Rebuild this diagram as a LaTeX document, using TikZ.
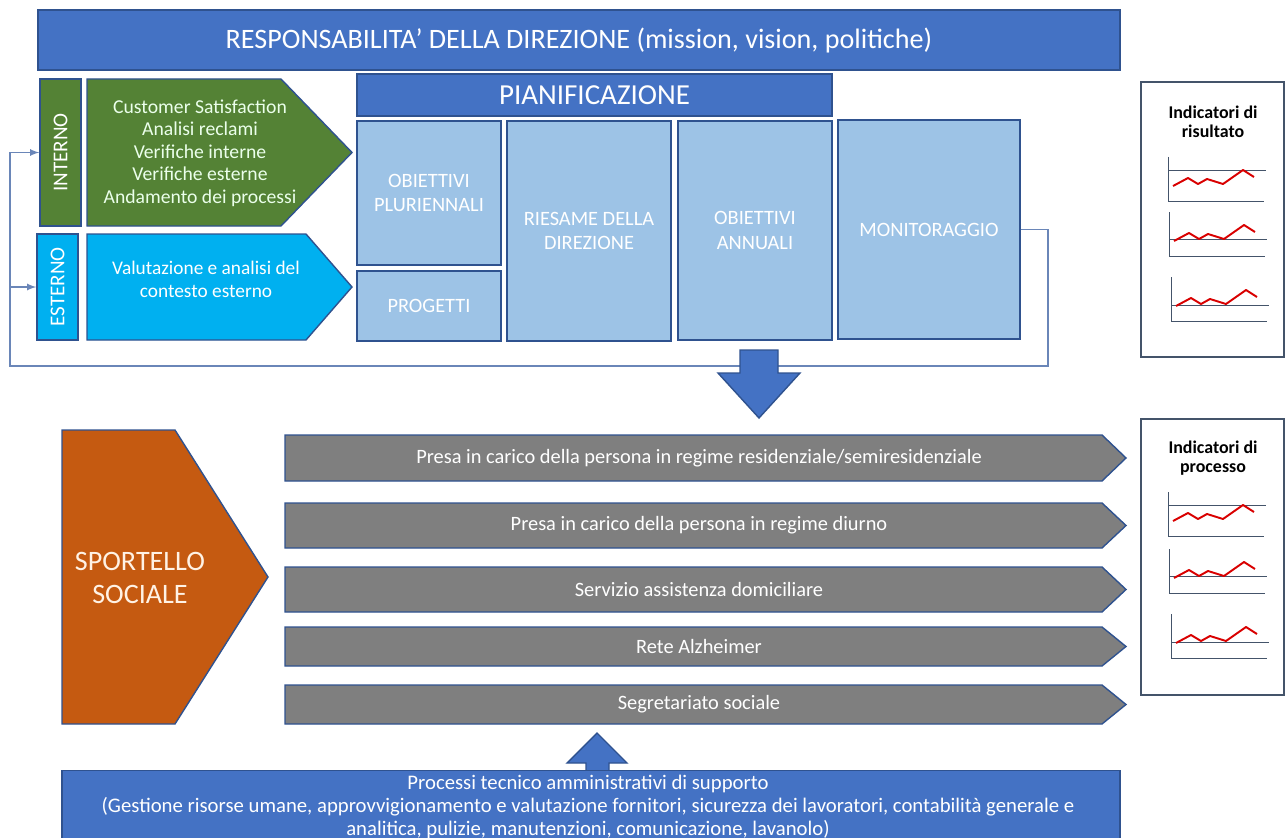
\documentclass[tikz,border=0pt]{standalone}
\usepackage{fontspec}
\setmainfont{Carlito}
\usetikzlibrary{arrows}

\definecolor{blusc}{HTML}{4472C4}
\definecolor{bordo}{HTML}{2F528F}
\definecolor{verde}{HTML}{548235}
\definecolor{azzurro}{HTML}{00B0F0}
\definecolor{celeste}{HTML}{9DC3E6}
\definecolor{arancio}{HTML}{C55A11}
\definecolor{grigio}{HTML}{7F7F7F}
\definecolor{ardesia}{HTML}{44546A}
\definecolor{ritorno}{HTML}{6A86B8}

% piccolo grafico: x, y dell'asse, quota della linea di riferimento
\newcommand{\minigrafico}[3]{
	\begin{scope}[shift={(#1,#2)}]
		\draw[ardesia, line width=0.5pt] (0,0) -- (0,44) -- (96,44);
		\draw[ardesia, line width=0.5pt] (0,#3) -- (98,#3);
		\draw[red!85!black, line width=1.1pt, line join=round] (5,29) -- (20,21) -- (30,27) -- (39,22) -- (55,27) -- (75,13) -- (86,20);
	\end{scope}
}

\begin{document}
\begin{tikzpicture}[x=0.02cm,y=-0.02cm]
	\tikzstyle{testata}=[rectangle,draw=bordo,fill=blusc,line width=0.8pt,text=white]
	\tikzstyle{verticale}=[rectangle,draw=bordo,line width=0.8pt,text=white,rotate=90,font=\fontsize{12}{14}\selectfont]
	\tikzstyle{cella}=[rectangle,draw=bordo,fill=celeste,line width=0.8pt,text=white,align=center,font=\fontsize{11.6}{13.8}\selectfont]
	\tikzstyle{punta}=[draw=bordo,line width=0.8pt]
	\tikzstyle{voce}=[text=white,align=center,font=\fontsize{11.6}{13}\selectfont]
	\tikzstyle{indicatori}=[rectangle,draw=ardesia,line width=0.8pt,fill=white]
	\tikzstyle{titind}=[font=\bfseries\fontsize{10.2}{10.9}\selectfont,align=center]
	\tikzstyle{ritorno}=[draw=ritorno,line width=0.8pt]

	\useasboundingbox (0,0) rectangle (1285,838);

	% responsabilita'
	\node[testata,minimum width=21.64cm,minimum height=1.2cm,font=\fontsize{16}{18}\selectfont] (dir) at (579,40) {RESPONSABILITA' DELLA DIREZIONE (mission, vision, politiche)};

	% contesto interno ed esterno
	\node[verticale,fill=verde,minimum width=2.94cm,minimum height=0.82cm] (interno) at (60.5,152.5) {INTERNO};
	\node[verticale,fill=azzurro,minimum width=2.12cm,minimum height=0.82cm] (esterno) at (57.5,287) {ESTERNO};
	\filldraw[punta,fill=verde] (87,79) -- (281,79) -- (352,152.5) -- (281,226) -- (87,226) -- cycle;
	\node[voce,text=green!8!white,font=\fontsize{11.2}{12.8}\selectfont] (fonti) at (200,153) {Customer Satisfaction\\Analisi reclami\\Verifiche interne\\Verifiche esterne\\Andamento dei processi};
	\filldraw[punta,fill=azzurro] (87,234) -- (306,234) -- (352,287) -- (306,340) -- (87,340) -- cycle;
	\node[voce,font=\fontsize{11}{13}\selectfont] (contesto) at (206,279) {Valutazione e analisi del\\contesto esterno};

	% pianificazione
	\node[testata,minimum width=9.5cm,minimum height=0.84cm,font=\fontsize{16.5}{18}\selectfont] (pian) at (594.5,95) {PIANIFICAZIONE};
	\node[cella,minimum width=2.88cm,minimum height=2.88cm] (pluri) at (429,193) {OBIETTIVI\\PLURIENNALI};
	\node[cella,minimum width=2.88cm,minimum height=1.4cm] (progetti) at (429,306) {PROGETTI};
	\node[cella,minimum width=3.28cm,minimum height=4.4cm] (riesame) at (589,231) {RIESAME DELLA\\DIREZIONE};
	\node[cella,minimum width=3.08cm,minimum height=4.38cm] (annuali) at (755,230.5) {OBIETTIVI\\ANNUALI};
	\node[cella,minimum width=3.64cm,minimum height=4.38cm] (monit) at (929,229.5) {MONITORAGGIO};

	% ritorno dal monitoraggio
	\coordinate (rd) at (1048,366);
	\coordinate (rs) at (10,366);
	\draw[ritorno,-latex] (monit.east) -| (rd) -- (rs) |- (interno.north);
	\draw[ritorno,-latex] (rs |- esterno.north) -- (esterno.north);

	% freccia verso i processi
	\filldraw[punta,fill=blusc] (740,350) -- (778,350) -- (778,373) -- (800,373) -- (759,418) -- (718,373) -- (740,373) -- cycle;

	% indicatori
	\node[indicatori,minimum width=2.86cm,minimum height=5.5cm] (risultato) at (1212.5,219.5) {};
	\node[titind] (tris) at (1213,122) {Indicatori di\\risultato};
	\minigrafico{1168}{157}{13}
	\minigrafico{1169}{212}{27}
	\minigrafico{1171}{277}{28}
	\node[indicatori,minimum width=2.86cm,minimum height=5.52cm] (processo) at (1212.5,557) {};
	\node[titind] (tpro) at (1213,458) {Indicatori di\\processo};
	\minigrafico{1168}{492}{13}
	\minigrafico{1169}{549}{27}
	\minigrafico{1171}{614}{28}

	% sportello sociale
	\filldraw[punta,fill=arancio] (62,430) -- (175,430) -- (268,577) -- (175,724) -- (62,724) -- cycle;
	\node[text=orange!10!white,align=center,font=\fontsize{16}{18.5}\selectfont] (sportello) at (140,578) {SPORTELLO\\SOCIALE};

	% processi
	\foreach \i/\ya/\yb/\testo in {1/435/481/{Presa in carico della persona in regime residenziale/semiresidenziale},2/503/548/{Presa in carico della persona in regime diurno},3/567/612/{Servizio assistenza domiciliare},4/627/666/{Rete Alzheimer},5/685/724/{Segretariato sociale}}{
		\filldraw[punta,fill=grigio] (285,\ya) -- (1102,\ya) -- (1126,{(\ya+\yb)/2}) -- (1102,\yb) -- (285,\yb) -- cycle;
		\node[voce] (proc\i) at (699,{(\ya+\yb)/2}) {\testo};
	}

	% supporto
	\filldraw[punta,fill=blusc] (586,771) -- (586,763) -- (567,763) -- (597,733) -- (627,763) -- (609,763) -- (609,771);
	\node[testata,minimum width=21.16cm,minimum height=1.5cm,anchor=north] (supporto) at (591,770) {};
	\node[text=white,align=center,font=\fontsize{11.8}{13}\selectfont] (tsupp) at (588,807) {Processi tecnico amministrativi di supporto\\(Gestione risorse umane, approvvigionamento e valutazione fornitori, sicurezza dei lavoratori, contabilità generale e\\analitica, pulizie, manutenzioni, comunicazione, lavanolo)};
\end{tikzpicture}
\end{document}
